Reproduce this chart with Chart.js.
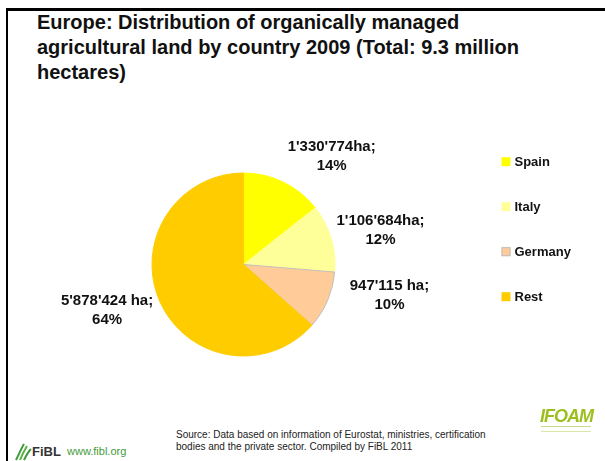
<!DOCTYPE html>
<html>
<head>
<meta charset="utf-8">
<script src="https://cdn.jsdelivr.net/npm/chart.js@4.4.0/dist/chart.umd.min.js"></script>
<style>
  html, body { margin: 0; padding: 0; background: #fff; }
  body { width: 605px; height: 461px; position: relative; overflow: hidden; font-family: "Liberation Sans", Arial, sans-serif; }
  #frame { position: absolute; left: 6px; top: 8px; width: 620px; height: 470px; border-top: 3px solid #000; border-left: 2px solid #000; }
  #title { position: absolute; left: 37px; top: 10px; width: 520px; font-weight: bold; font-size: 20px; line-height: 25px; color: #111; }
  #chartBox { position: absolute; left: 0; top: 110px; width: 605px; height: 300px; }
  #source { position: absolute; left: 176px; top: 429px; font-size: 10px; line-height: 12px; color: #222; }
  #fibl { position: absolute; left: 15px; top: 443px; height: 18px; }
  #fiblText { position: absolute; left: 32px; top: 444px; font-weight: bold; font-size: 13px; color: #333; }
  #fiblUrl { position: absolute; left: 67px; top: 445px; font-size: 11px; color: #3f9b3a; }
  #ifoam { position: absolute; left: 540px; top: 406px; font-weight: bold; font-style: italic; font-size: 18px; letter-spacing: -1px; color: #9cbf1e; }
  #ifoamSub { position: absolute; left: 541px; top: 426px; width: 50px; height: 4px; border-top: 1px solid #c9dc8a; border-bottom: 1px solid #d8e6a8; }
</style>
</head>
<body>
<div id="frame"></div>
<div id="title">Europe: Distribution of organically managed agricultural land by country 2009 (Total: 9.3 million hectares)</div>
<div id="chartBox"><canvas id="c" width="605" height="300"></canvas></div>
<svg id="fibl" width="18" height="18" viewBox="0 0 18 18">
  <path d="M1 17 C4 11 6 6 9 1" stroke="#3f9b3a" stroke-width="2" fill="none"/>
  <path d="M5 17 C7 12 9 8 12 3" stroke="#5fb04a" stroke-width="2" fill="none"/>
  <path d="M9 17 C11 13 13 9 16 6" stroke="#3f9b3a" stroke-width="2" fill="none"/>
</svg>
<div id="fiblText">FiBL</div>
<div id="fiblUrl">www.fibl.org</div>
<div id="source">Source: Data based on information of Eurostat, ministries, certification<br>bodies and the private sector. Compiled by FiBL 2011</div>
<div id="ifoam">IFOAM</div>
<div id="ifoamSub"></div>
<script>
// ---- data ----
const categories = ["Spain", "Italy", "Germany", "Rest"];
const hectares = [1330774, 1106684, 947115, 5878424];
const hectareLabels = ["1'330'774ha;", "1'106'684ha;", "947'115 ha;", "5'878'424 ha;"];
const percentLabels = ["14%", "12%", "10%", "64%"];
const sliceColors = ["#FFFF00", "#FFFF99", "#FFCC99", "#FFCC00"];
const sliceBorders = ["#FFFF00", "#FFFF99", "#BFBFBF", "#FFCC00"];

// label placement relative to each slice's mid-angle (degrees nudge, px beyond radius)
const labelNudgeDeg = [13.2, 2.8, -11.2, 5.6];
const labelGap = [48.4, 49.7, 57.7, 52.5];

const labelPlugin = {
  id: 'sliceLabels',
  afterDatasetsDraw(chart) {
    const ctx = chart.ctx;
    const meta = chart.getDatasetMeta(0);
    ctx.save();
    ctx.fillStyle = '#111';
    ctx.font = 'bold 15px "Liberation Sans", Arial, sans-serif';
    ctx.textAlign = 'center';
    ctx.textBaseline = 'middle';
    meta.data.forEach((arc, i) => {
      const p = arc.getProps(['x', 'y', 'startAngle', 'endAngle', 'outerRadius'], true);
      const mid = (p.startAngle + p.endAngle) / 2 + labelNudgeDeg[i] * Math.PI / 180;
      const d = p.outerRadius + labelGap[i];
      const cx = p.x + Math.cos(mid) * d;
      const cy = p.y + Math.sin(mid) * d;
      ctx.fillText(hectareLabels[i], cx, cy - 9.5);
      ctx.fillText(percentLabels[i], cx, cy + 9.5);
    });
    ctx.restore();
  }
};

const legendPlugin = {
  id: 'sideLegend',
  afterDraw(chart) {
    const ctx = chart.ctx;
    const x0 = 501.5, y0 = 51.7, step = 45;
    ctx.save();
    ctx.font = 'bold 13px "Liberation Sans", Arial, sans-serif';
    ctx.textBaseline = 'middle';
    ctx.textAlign = 'left';
    chart.data.labels.forEach((lab, i) => {
      const y = y0 + i * step;
      ctx.fillStyle = chart.data.datasets[0].backgroundColor[i];
      ctx.fillRect(x0, y - 4.5, 9, 9);
      if (i === 2) { ctx.strokeStyle = '#BFBFBF'; ctx.lineWidth = 1; ctx.strokeRect(x0 + 0.5, y - 4, 8, 8); }
      ctx.fillStyle = '#111';
      ctx.fillText(lab, x0 + 13, y + 0.5);
    });
    ctx.restore();
  }
};

new Chart(document.getElementById('c'), {
  type: 'pie',
  data: {
    labels: categories,
    datasets: [{
      data: hectares,
      backgroundColor: sliceColors,
      borderColor: sliceBorders,
      borderWidth: 1
    }]
  },
  options: {
    responsive: false,
    animation: false,
    layout: { padding: { top: 62.5, bottom: 53.5, left: 151.5, right: 269.5 } },
    plugins: { legend: { display: false }, tooltip: { enabled: false } }
  },
  plugins: [labelPlugin, legendPlugin]
});
</script>
</body>
</html>
